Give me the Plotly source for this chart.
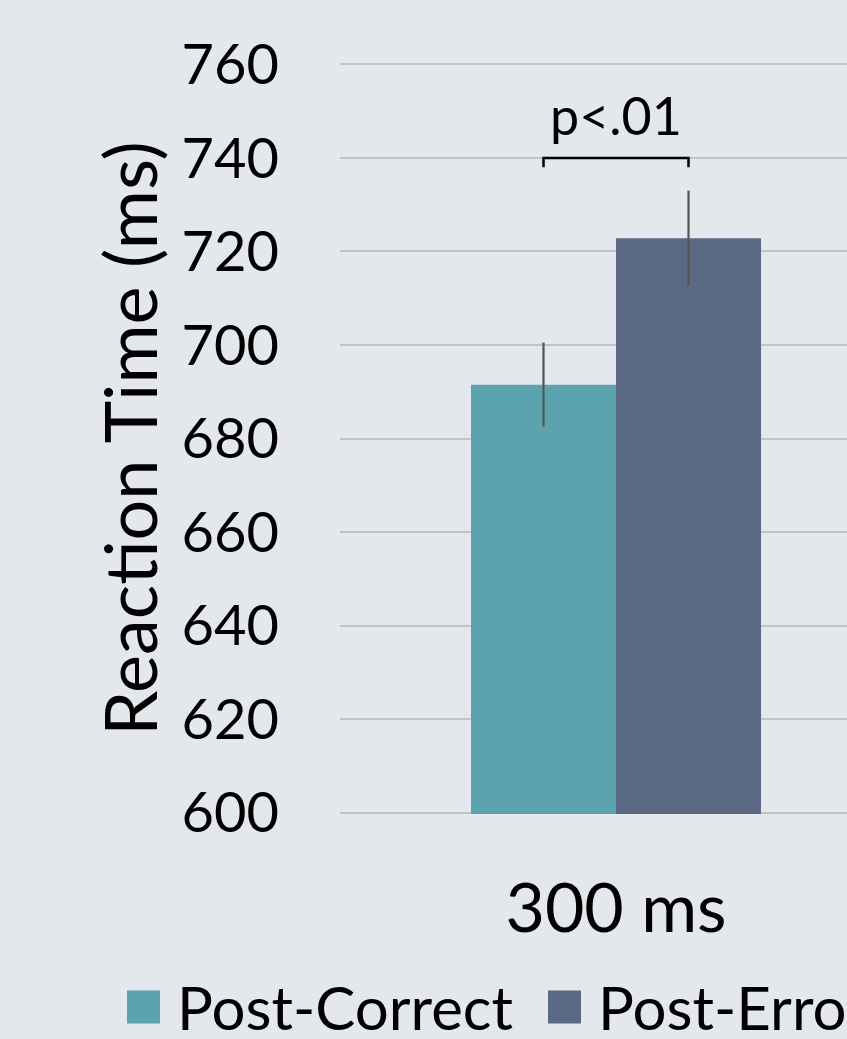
import plotly.graph_objects as go

categories = ["300 ms"]
series_names = ["Post-Correct", "Post-Error"]
post_correct = [691.5]
post_error = [722.8]
post_correct_err = [9.0]
post_error_err = [10.2]
y_ticks = [600, 620, 640, 660, 680, 700, 720, 740, 760]
sig_label = "p<.01"
sig_level = 740

colors = ["#5BA3AF", "#5A6A85"]
bg = "#E4E7EC"
FONT = "Lato"

W, H = 847, 1039
ML, MT, MB = 340, 63, 225
PLOT_W, PLOT_H = W - ML, H - MT - MB
CAT_PX = 616          # pixel centre of the category
BAR_PX = 145          # pixel width of one bar
units_per_px = 0.5 / (CAT_PX - ML)
x_hi = -0.5 + PLOT_W * units_per_px
BARGAP = 1 - 2 * BAR_PX * units_per_px

fig = go.Figure()
for name, vals, errs, col in zip(series_names, [post_correct, post_error],
                                 [post_correct_err, post_error_err], colors):
    fig.add_trace(go.Bar(
        x=categories, y=vals, name=name, marker=dict(color=col, line=dict(width=0)),
        error_y=dict(type="data", array=errs, color="#555555", thickness=2.2, width=0),
        showlegend=False,
    ))

# significance bracket between bar centres
off = (1 - BARGAP) / 4
fig.add_shape(type="path", xref="x", yref="y",
              path=f"M {-off},{sig_level-2} L {-off},{sig_level} L {off},{sig_level} L {off},{sig_level-2}",
              line=dict(color="black", width=2.5))
fig.add_annotation(x=0, y=sig_level, xref="x", yref="y", text=sig_label, showarrow=False,
                   yanchor="bottom", yshift=10, font=dict(family=FONT, size=52, color="black"))

# legend (drawn as squares + text so it matches the large swatches; clipped at right edge)
def px2paper_x(px):
    return (px - ML) / PLOT_W

def px2paper_y(py):
    return (H - MB - py) / PLOT_H

legend_x = [127, 548]
SW = 33
LEG_Y = 1007
for name, col, lx in zip(series_names, colors, legend_x):
    fig.add_shape(type="rect", xref="paper", yref="paper",
                  x0=px2paper_x(lx), x1=px2paper_x(lx + SW),
                  y0=px2paper_y(LEG_Y + SW / 2), y1=px2paper_y(LEG_Y - SW / 2),
                  fillcolor=col, line=dict(width=0))
    fig.add_annotation(x=px2paper_x(lx + SW + 15), y=px2paper_y(LEG_Y), xref="paper", yref="paper",
                       text=name, showarrow=False, xanchor="left", yanchor="middle",
                       font=dict(family=FONT, size=60, color="black"))

fig.update_layout(
    width=W, height=H,
    margin=dict(l=ML, r=0, t=MT, b=MB, pad=0),
    paper_bgcolor=bg, plot_bgcolor=bg,
    barmode="group", bargap=BARGAP, bargroupgap=0,
    font=dict(family=FONT, color="black"),
    showlegend=False,
    yaxis=dict(range=[599.7, 760.3], tickvals=y_ticks, showgrid=True, gridcolor="#C3C3C3",
               gridwidth=2, zeroline=False, showline=False, ticks="",
               tickfont=dict(size=56, family=FONT), ticklabelstandoff=60,
               title=dict(text="Reaction Time (ms)", font=dict(size=72, family=FONT), standoff=0)),
    xaxis=dict(range=[-0.5, x_hi], showgrid=False, showline=False, ticks="",
               tickfont=dict(size=68, family=FONT), ticklabelstandoff=49),
)

fig.write_html("out.html", config={"displayModeBar": False},
               post_script="document.body.style.margin='0px';document.body.style.overflow='hidden';"
                           "document.body.style.background='" + bg + "';")
